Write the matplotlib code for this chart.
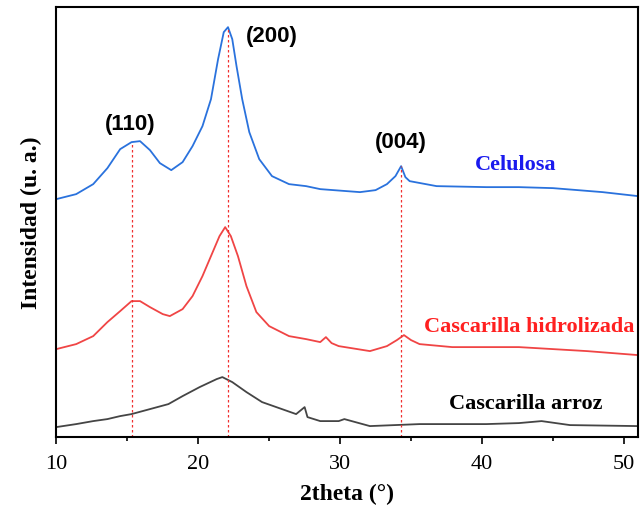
import numpy as np
import matplotlib.pyplot as plt

# 2theta values (deg) and intensities (arbitrary units)
tt_cel = [10, 11.4, 12.6, 13.6, 14.5, 15.3, 15.9, 16.6, 17.3, 18.1, 18.9, 19.6, 20.3,
          20.9, 21.4, 21.8, 22.1, 22.4, 22.7, 23.1, 23.6, 24.3, 25.2, 26.4, 27.6, 28.6,
          31.4, 32.5, 33.3, 33.9, 34.3, 34.6, 34.9, 36.8, 40.3, 42.6, 45, 48.5, 51]
i_cel = [238, 243, 253, 269, 288, 295, 296, 287, 274, 267, 275, 291, 311,
         338, 378, 405, 410, 398, 371, 338, 305, 278, 261, 253, 251, 248,
         245, 247, 253, 261, 271, 260, 256, 251, 250, 250, 249, 245, 241]

tt_hid = [10, 11.4, 12.6, 13.6, 14.5, 15.3, 15.9, 16.6, 17.5, 18.0, 18.9, 19.6, 20.3,
          20.9, 21.5, 21.9, 22.3, 22.8, 23.4, 24.1, 25.0, 26.4, 27.6, 28.6, 29.0, 29.4,
          29.9, 32.1, 33.3, 34.0, 34.5, 35.0, 35.6, 37.9, 40.3, 42.6, 45, 47.4, 51]
i_hid = [88, 93, 101, 115, 126, 136, 136, 130, 123, 121, 128, 141, 161,
         181, 201, 210, 201, 181, 151, 125, 111, 101, 98, 95, 100, 94,
         91, 86, 91, 97, 102, 97, 93, 90, 90, 90, 88, 86, 82]

tt_arr = [10, 11.4, 12.6, 13.6, 14.5, 15.3, 16.6, 17.9, 18.9, 20.1, 21.3, 21.7, 22.4,
          23.4, 24.5, 25.9, 26.9, 27.5, 27.7, 28.6, 29.9, 30.3, 32.1, 35.6, 40.3,
          42.6, 44.2, 46.2, 51]
i_arr = [10, 13, 16, 18, 21, 23, 28, 33, 41, 50, 58, 60, 55,
         45, 35, 28, 23, 30, 20, 16, 16, 18, 11, 13, 13,
         14, 16, 12, 11]

peaks = [15.3, 22.1, 34.3]
peak_labels = ["(110)", "(200)", "(004)"]
peak_label_pos = [(15.2, 314), (25.2, 402), (34.3, 296)]

fig, ax = plt.subplots(figsize=(6.4, 5.1), dpi=100)
fig.subplots_adjust(left=0.088, right=0.997, bottom=0.141, top=0.984)

ax.plot(tt_cel, i_cel, color="#2a72dd", lw=1.3)
ax.plot(tt_hid, i_hid, color="#f04545", lw=1.3)
ax.plot(tt_arr, i_arr, color="#454545", lw=1.3)

# dotted guides from the axis up to the Celulosa peaks
tops = np.interp(peaks, tt_cel, i_cel)
ax.vlines(peaks, 0, tops, colors="#f03030", linestyles=(0, (2, 2)), lw=0.9)

for lab, (x, y) in zip(peak_labels, peak_label_pos):
    ax.text(x, y, lab, ha="center", va="center", fontsize=16, fontweight="bold",
            family="Liberation Sans")

ax.text(42.4, 273, "Celulosa", color="#1a1aee", ha="center", va="center",
        fontsize=16, fontweight="bold", family="Liberation Serif")
ax.text(43.3, 111, "Cascarilla hidrolizada", color="#ff2020", ha="center", va="center",
        fontsize=16, fontweight="bold", family="Liberation Serif")
ax.text(43.1, 34, "Cascarilla arroz", color="black", ha="center", va="center",
        fontsize=16, fontweight="bold", family="Liberation Serif")

ax.set_xlim(10, 51)
ax.set_ylim(0, 430)
ax.set_xticks([10, 20, 30, 40, 50])
ax.set_xticks([15, 25, 35, 45], minor=True)
ax.set_yticks([])
ax.tick_params(axis="x", which="major", length=5, width=1.2, labelsize=16, pad=7)
ax.tick_params(axis="x", which="minor", length=3, width=1.2)
for lab in ax.get_xticklabels():
    lab.set_family("Liberation Serif")
for s in ax.spines.values():
    s.set_linewidth(1.5)

ax.set_xlabel("2theta (°)", fontsize=17, fontweight="bold", family="Liberation Serif",
              labelpad=7)
ax.set_ylabel("Intensidad (u. a.)", fontsize=17, fontweight="bold",
              family="Liberation Serif", labelpad=10)

plt.savefig("out.png")
